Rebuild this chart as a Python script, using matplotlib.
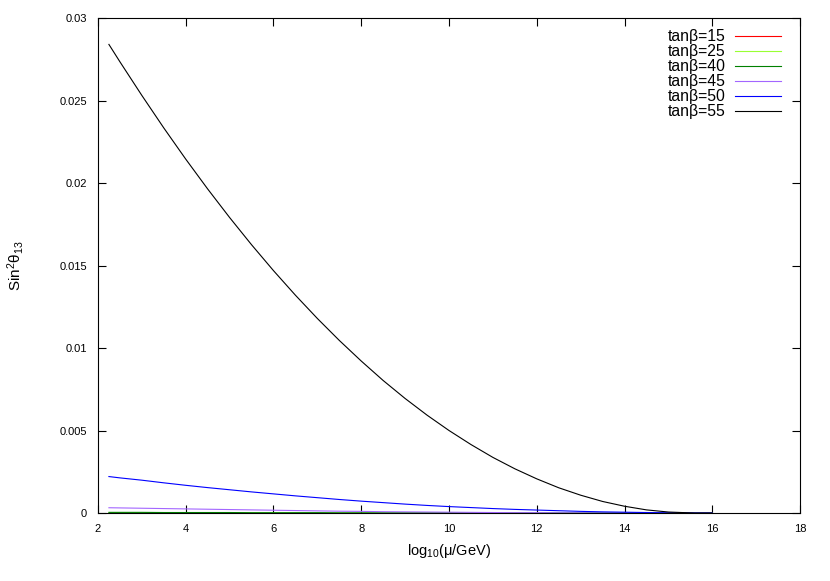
import matplotlib
matplotlib.use('Agg')
import matplotlib.pyplot as plt

plt.rcParams['font.family'] = ['Liberation Sans', 'DejaVu Sans']
plt.rcParams['mathtext.default'] = 'regular'

# log10(mu/GeV) sample points
mu = [2.25, 2.5, 3, 3.5, 4, 4.5, 5, 5.5, 6, 6.5, 7, 7.5, 8, 8.5, 9, 9.5, 10,
      10.5, 11, 11.5, 12, 12.5, 13, 13.5, 14, 14.5, 15, 15.6, 16]

labels = ['tan\u03b2=15', 'tan\u03b2=25', 'tan\u03b2=40', 'tan\u03b2=45', 'tan\u03b2=50', 'tan\u03b2=55']
colors = ['#ff0000', '#99ff33', '#008000', '#a366ff', '#0000ff', '#000000']

s15 = [0.0] * 29
s25 = [0.00001, 0.00001, 0.00001, 0.00001, 0.00001, 0.00001, 0.00001, 0.0, 0.0, 0.0,
       0.0, 0.0, 0.0, 0.0, 0.0, 0.0, 0.0, 0.0, 0.0, 0.0, 0.0, 0.0, 0.0, 0.0, 0.0, 0.0, 0.0, 0.0, 0.0]
s40 = [0.00004, 0.00004, 0.00004, 0.00003, 0.00003, 0.00003, 0.00003, 0.00002, 0.00002, 0.00002,
       0.00002, 0.00001, 0.00001, 0.00001, 0.00001, 0.00001, 0.00001, 0.0, 0.0, 0.0,
       0.0, 0.0, 0.0, 0.0, 0.0, 0.0, 0.0, 0.0, 0.0]
s45 = [0.00032, 0.00031, 0.00029, 0.00027, 0.00025, 0.00023, 0.00021, 0.00019, 0.00017, 0.00015,
       0.00013, 0.00011, 0.0001, 0.00008, 0.00007, 0.00006, 0.00005, 0.00004, 0.00003, 0.00002,
       0.00002, 0.00001, 0.00001, 0.0, 0.0, 0.0, 0.0, 0.0, 0.0]
s50 = [0.00221, 0.00213, 0.00199, 0.00183, 0.00168, 0.00154, 0.00141, 0.00128, 0.00116, 0.00104,
       0.00093, 0.00082, 0.00072, 0.00063, 0.00054, 0.00046, 0.00039, 0.00033, 0.00027, 0.00022,
       0.00018, 0.00014, 0.0001, 0.00007, 0.00005, 0.00003, 0.00001, 0.0, 0.0]
s55 = [0.0284, 0.02735, 0.02531, 0.02334, 0.02145, 0.01964, 0.01791, 0.01626, 0.01469, 0.0132,
       0.01179, 0.01046, 0.00921, 0.00803, 0.00694, 0.00593, 0.0050, 0.00415, 0.00337, 0.00268,
       0.00207, 0.00153, 0.00108, 0.0007, 0.00041, 0.00019, 0.00006, 0.0, 0.0]
series = [s15, s25, s40, s45, s50, s55]

xticks = [2, 4, 6, 8, 10, 12, 14, 16, 18]
yticks = [0, 0.005, 0.01, 0.015, 0.02, 0.025, 0.03]
yticklabels = ['0', '0.005', '0.01', '0.015', '0.02', '0.025', '0.03']

fig = plt.figure(figsize=(8.3, 5.81), dpi=100)
ax = fig.add_axes([0.118, 0.117, 0.846, 0.852])

for ys, lab, c in zip(series, labels, colors):
    ax.plot(mu, ys, color=c, lw=0.8, label=lab)

ax.set_xlim(2, 18)
ax.set_ylim(0, 0.03)
ax.set_xticks(xticks)
ax.set_xticklabels([str(t) for t in xticks])
ax.set_yticks(yticks)
ax.set_yticklabels(yticklabels)
ax.tick_params(direction='in', top=True, right=True, length=6, width=0.8, labelsize=8, pad=8)
for sp in ax.spines.values():
    sp.set_linewidth(0.8)

ax.set_xlabel(r'log$_{10}$($\mu$/GeV)', fontsize=10.5, labelpad=6)
ax.set_ylabel(r'Sin$^2\theta_{13}$', fontsize=11, labelpad=24)

ax.legend(loc='upper right', bbox_to_anchor=(0.988, 1.0), frameon=False, markerfirst=False,
          fontsize=11.3, handlelength=2.9, labelspacing=0.0, handletextpad=0.6, borderaxespad=0.3)

fig.savefig('out.png', dpi=100)
